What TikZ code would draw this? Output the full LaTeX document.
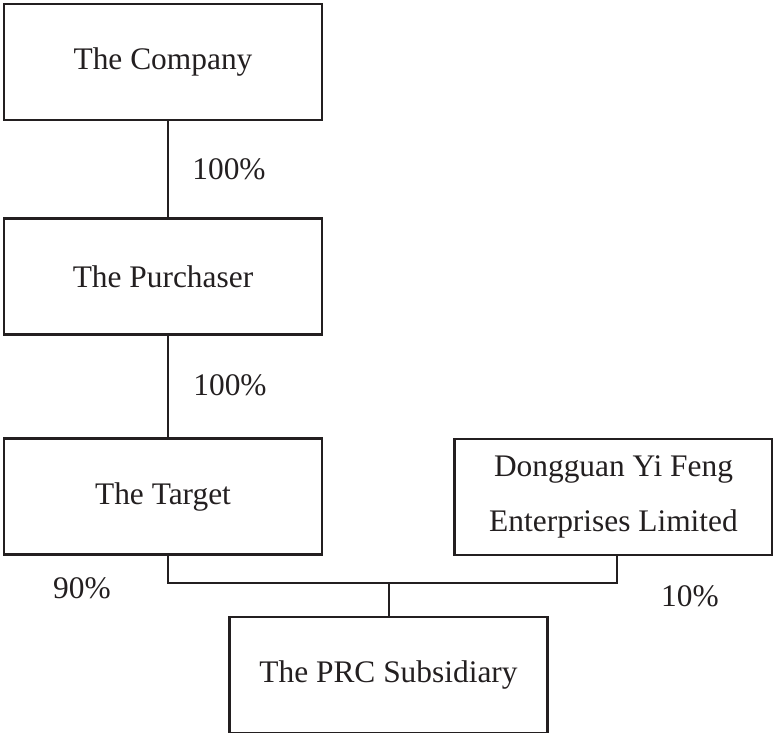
\documentclass[tikz,border=0pt]{standalone}
\usepackage{fontspec}
\setmainfont{Liberation Serif}
\usepackage{tikz}
\definecolor{ink}{HTML}{231F20}

\begin{document}
\begin{tikzpicture}[x=0.5pt, y=-0.5pt, line width=1.2pt, draw=ink,
  entity/.style={draw=ink, text=ink, minimum width=159pt, minimum height=58pt, inner sep=0pt, align=center, font=\fontsize{15.7}{27.5}\selectfont},
  share/.style={text=ink, inner sep=0pt, font=\fontsize{15.7}{19}\selectfont}]
\useasboundingbox (0,0) rectangle (773,733);
\node[entity] (company) at (163,62) {The Company};
\node[entity] (purchaser) at (163,276.5) {The Purchaser};
\node[entity] (target) at (163,496.5) {The Target};
\node[entity] (dongguan) at (613.5,497) {Dongguan Yi Feng\\Enterprises Limited};
\node[entity] (prcsub) at (388.5,675) {The PRC Subsidiary};
\coordinate (join) at (389,583);
\draw ([xshift=2.5pt]company.south) -- ([xshift=2.5pt]purchaser.north);
\draw ([xshift=2.5pt]purchaser.south) -- ([xshift=2.5pt]target.north);
\draw ([xshift=2.5pt]target.south) |- (join) -| ([xshift=1.75pt]dongguan.south);
\draw (join) -- (join |- prcsub.north);
\node[share] (c100) at (229,169) {100\%};
\node[share] (p100) at (230,385) {100\%};
\node[share] (t90) at (82,588) {90\%};
\node[share] (d10) at (690,596) {10\%};
\end{tikzpicture}
\end{document}
